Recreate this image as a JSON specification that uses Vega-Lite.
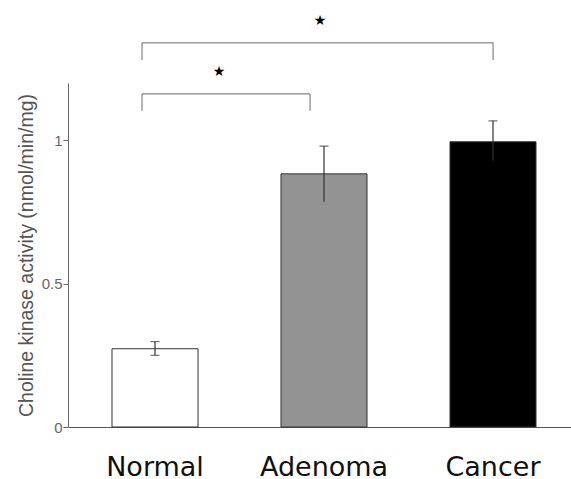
{
  "$schema": "https://vega.github.io/schema/vega-lite/v6.json",
  "width": 503,
  "height": 344,
  "autosize": {"type": "none"},
  "padding": {"left": 68, "top": 83, "right": 0, "bottom": 52},
  "background": "white",
  "config": {"view": {"stroke": null}},
  "datasets": {
    "bars": [
      {"group": "Normal", "mean": 0.273, "lo": 0.25, "hi": 0.298},
      {"group": "Adenoma", "mean": 0.883, "lo": 0.786, "hi": 0.98},
      {"group": "Cancer", "mean": 0.995, "lo": 0.93, "hi": 1.068}
    ],
    "brackets": [
      {"x1": 0.923, "x2": 1.917, "y": 1.162, "yleg": 1.103, "starx": 1.379, "stary": 1.24},
      {"x1": 0.923, "x2": 3.0, "y": 1.34, "yleg": 1.28, "starx": 1.976, "stary": 1.418}
    ]
  },
  "layer": [
    {
      "data": {"name": "bars"},
      "layer": [
        {
          "mark": {"type": "bar", "stroke": "#333", "strokeWidth": 1},
          "encoding": {
            "x": {
              "field": "group", "type": "nominal", "sort": null,
              "scale": {"paddingInner": 0.491, "paddingOuter": 0.2337, "align": 0.557},
              "axis": {
                "title": null, "labelAngle": 0, "ticks": false,
                "labelFont": "DejaVu Sans", "labelFontSize": 27, "labelColor": "#111",
                "labelPadding": 27, "domainColor": "#555", "domainWidth": 1
              }
            },
            "y": {
              "field": "mean", "type": "quantitative",
              "scale": {"domain": [0, 1.2], "nice": false},
              "axis": {
                "title": "Choline kinase activity (nmol/min/mg)",
                "titleFont": "Liberation Sans", "titleFontSize": 19.5, "titleFontWeight": "normal",
                "titleColor": "#555", "titlePadding": 5,
                "values": [0, 0.5, 1], "labelExpr": "format(datum.value, '~g')",
                "labelFont": "Liberation Sans", "labelFontSize": 15, "labelColor": "#666",
                "labelPadding": 1, "tickSize": 5, "tickColor": "#666",
                "domainColor": "#666", "grid": false
              }
            },
            "fill": {
              "field": "group", "type": "nominal", "legend": null,
              "scale": {"domain": ["Normal", "Adenoma", "Cancer"], "range": ["#ffffff", "#939393", "#000000"]}
            }
          }
        },
        {
          "mark": {"type": "rule", "color": "#333", "strokeWidth": 1.2},
          "encoding": {
            "x": {"field": "group", "type": "nominal", "sort": null},
            "y": {"field": "lo", "type": "quantitative"},
            "y2": {"field": "hi"}
          }
        },
        {
          "mark": {"type": "tick", "color": "#333", "thickness": 1.2, "size": 9, "orient": "horizontal"},
          "encoding": {
            "x": {"field": "group", "type": "nominal", "sort": null},
            "y": {"field": "hi", "type": "quantitative"}
          }
        },
        {
          "transform": [{"filter": "datum.group == 'Normal'"}],
          "mark": {"type": "tick", "color": "#333", "thickness": 1.2, "size": 9, "orient": "horizontal"},
          "encoding": {
            "x": {"field": "group", "type": "nominal", "sort": null},
            "y": {"field": "lo", "type": "quantitative"}
          }
        }
      ]
    },
    {
      "data": {"name": "brackets"},
      "layer": [
        {
          "mark": {"type": "rule", "color": "#6a6a6a", "strokeWidth": 1},
          "encoding": {
            "x": {"field": "x1", "type": "quantitative", "scale": {"domain": [0.485, 3.461], "nice": false, "zero": false}, "axis": null},
            "x2": {"field": "x2"},
            "y": {"field": "y", "type": "quantitative"}
          }
        },
        {
          "mark": {"type": "rule", "color": "#6a6a6a", "strokeWidth": 1},
          "encoding": {
            "x": {"field": "x1", "type": "quantitative", "axis": null},
            "y": {"field": "yleg", "type": "quantitative"},
            "y2": {"field": "y"}
          }
        },
        {
          "mark": {"type": "rule", "color": "#6a6a6a", "strokeWidth": 1},
          "encoding": {
            "x": {"field": "x2", "type": "quantitative", "axis": null},
            "y": {"field": "yleg", "type": "quantitative"},
            "y2": {"field": "y"}
          }
        },
        {
          "mark": {"type": "text", "text": "★", "font": "DejaVu Sans", "fontSize": 14, "color": "#000"},
          "encoding": {
            "x": {"field": "starx", "type": "quantitative", "axis": null},
            "y": {"field": "stary", "type": "quantitative"}
          }
        }
      ]
    }
  ],
  "resolve": {"scale": {"x": "independent"}, "axis": {"x": "independent"}}
}
